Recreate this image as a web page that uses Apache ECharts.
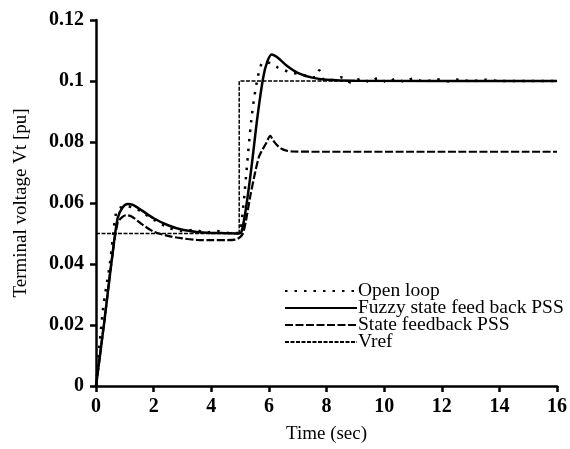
<!DOCTYPE html>
<html>
<head>
<meta charset="utf-8">
<script src="https://cdn.jsdelivr.net/npm/echarts@6/dist/echarts.min.js"></script>
<style>html,body{margin:0;padding:0;background:#fff}#c{width:570px;height:449px}</style>
</head>
<body>
<div id="c"></div>
<script>
// ---- data ----
const xTicks = [0, 2, 4, 6, 8, 10, 12, 14, 16];
const yTicks = [0, 0.02, 0.04, 0.06, 0.08, 0.1, 0.12];

const openT = [0, 0.24, 0.48, 0.7, 0.85, 1.0, 1.3, 1.6, 2.0, 2.5, 3.0, 3.4, 3.8, 4.2, 4.6, 4.95, 5.1, 5.2, 5.4, 5.6, 5.8, 6.0, 6.3, 6.7, 7.2, 7.6, 7.75, 7.9, 8.2, 8.5, 8.85, 9.2, 9.5, 9.8, 10.1, 10.4, 10.7, 11.0, 11.4, 11.8, 12.2, 12.6, 13.0, 13.5, 14.0, 16];
const openV = [0, 0.025, 0.040, 0.057, 0.0585, 0.059, 0.0585, 0.057, 0.0545, 0.052, 0.0508, 0.0512, 0.0503, 0.0508, 0.0502, 0.0502, 0.058, 0.068, 0.088, 0.1005, 0.106, 0.106, 0.1045, 0.103, 0.102, 0.1012, 0.1035, 0.1005, 0.1003, 0.1012, 0.0995, 0.1008, 0.0997, 0.1010, 0.0996, 0.1007, 0.0998, 0.1008, 0.0998, 0.1006, 0.0999, 0.1005, 0.0999, 0.1004, 0.1, 0.1];

const fuzzyT = [0, 0.3, 0.53, 0.75, 0.92, 1.1, 1.3, 1.6, 2.0, 2.5, 3.0, 3.5, 4.0, 4.5, 4.95, 5.05, 5.2, 5.4, 5.6, 5.8, 5.95, 6.1, 6.3, 6.6, 7.0, 7.5, 8.0, 9.0, 16];
const fuzzyV = [0, 0.022, 0.040, 0.055, 0.0585, 0.0597, 0.0593, 0.0575, 0.055, 0.0527, 0.0512, 0.0505, 0.0502, 0.0501, 0.0500, 0.0506, 0.058, 0.072, 0.088, 0.101, 0.1065, 0.1087, 0.1077, 0.1052, 0.1027, 0.1011, 0.1004, 0.1001, 0.1];

const stateT = [0, 0.3, 0.53, 0.75, 0.9, 1.05, 1.25, 1.6, 2.0, 2.5, 3.0, 3.5, 4.0, 4.5, 4.85, 5.0, 5.1, 5.2, 5.35, 5.5, 5.65, 5.75, 5.9, 6.05, 6.15, 6.3, 6.5, 6.8, 8.0, 12.0, 16];
const stateV = [0, 0.022, 0.040, 0.0535, 0.0553, 0.056, 0.0555, 0.053, 0.0506, 0.0492, 0.0484, 0.0479, 0.0478, 0.0478, 0.0480, 0.0488, 0.050, 0.054, 0.062, 0.069, 0.075, 0.077, 0.0795, 0.082, 0.0805, 0.0788, 0.0775, 0.0769, 0.0768, 0.0768, 0.0768];

const vrefT = [0, 4.97, 4.97, 16];
const vrefV = [0.05, 0.05, 0.1, 0.1];

const names = ['Open loop', 'Fuzzy state feed back PSS', 'State feedback PSS', 'Vref'];

function pairs(t, v) { return t.map((x, i) => [x, v[i]]); }

const FONT = '"Liberation Serif", "DejaVu Serif", serif';
const chart = echarts.init(document.getElementById('c'), null, { renderer: 'canvas' });
chart.setOption({
  animation: false,
  backgroundColor: '#fff',
  grid: { left: 96, right: 4, top: 20, bottom: 59, containLabel: false },
  legend: {
    orient: 'vertical', left: 279, top: 276,
    itemWidth: 72, itemHeight: 14, itemGap: -3,
    data: names,
    itemStyle: { opacity: 0 },
    textStyle: { fontFamily: FONT, fontSize: 19.5, lineHeight: 17, color: '#000', padding: [0, 0, 0, -4] }
  },
  xAxis: {
    type: 'value', min: xTicks[0], max: xTicks[xTicks.length - 1], interval: 2,
    name: 'Time (sec)', nameLocation: 'middle', nameGap: 39,
    nameTextStyle: { fontFamily: FONT, fontSize: 19, color: '#000' },
    axisLine: { lineStyle: { color: '#000', width: 2.5 } },
    axisTick: { length: 6, lineStyle: { color: '#000', width: 2.5 } },
    axisLabel: { fontFamily: FONT, fontSize: 20, fontWeight: 'bold', color: '#000', margin: 11 },
    splitLine: { show: false }
  },
  yAxis: {
    type: 'value', min: yTicks[0], max: yTicks[yTicks.length - 1], interval: 0.02,
    name: 'Terminal voltage Vt [pu]', nameLocation: 'middle', nameGap: 65,
    nameTextStyle: { fontFamily: FONT, fontSize: 19, color: '#000' },
    axisLine: { show: true, lineStyle: { color: '#000', width: 2.5 } },
    axisTick: { show: true, length: 6, lineStyle: { color: '#000', width: 2.5 } },
    axisLabel: { fontFamily: FONT, fontSize: 20, fontWeight: 'bold', color: '#000', margin: 12,
      formatter: v => String(parseFloat(v.toFixed(3))) },
    splitLine: { show: false }
  },
  series: [
    { name: names[0], type: 'line', data: pairs(openT, openV), symbol: 'none', smooth: 0.3,
      lineStyle: { color: '#000', width: 2.5, type: [2.5, 7] }, itemStyle: { color: '#000' }, z: 3 },
    { name: names[1], type: 'line', data: pairs(fuzzyT, fuzzyV), symbol: 'none', smooth: 0.3,
      lineStyle: { color: '#000', width: 2.5, type: 'solid' }, itemStyle: { color: '#000' }, z: 4 },
    { name: names[2], type: 'line', data: pairs(stateT, stateV), symbol: 'none', smooth: 0.3,
      lineStyle: { color: '#000', width: 2.2, type: [8, 2.5] }, itemStyle: { color: '#000' }, z: 2 },
    { name: names[3], type: 'line', data: pairs(vrefT, vrefV), symbol: 'none', smooth: false,
      lineStyle: { color: '#000', width: 1.5, type: [4, 1.5] }, itemStyle: { color: '#000' }, z: 1 }
  ]
});
</script>
</body>
</html>
